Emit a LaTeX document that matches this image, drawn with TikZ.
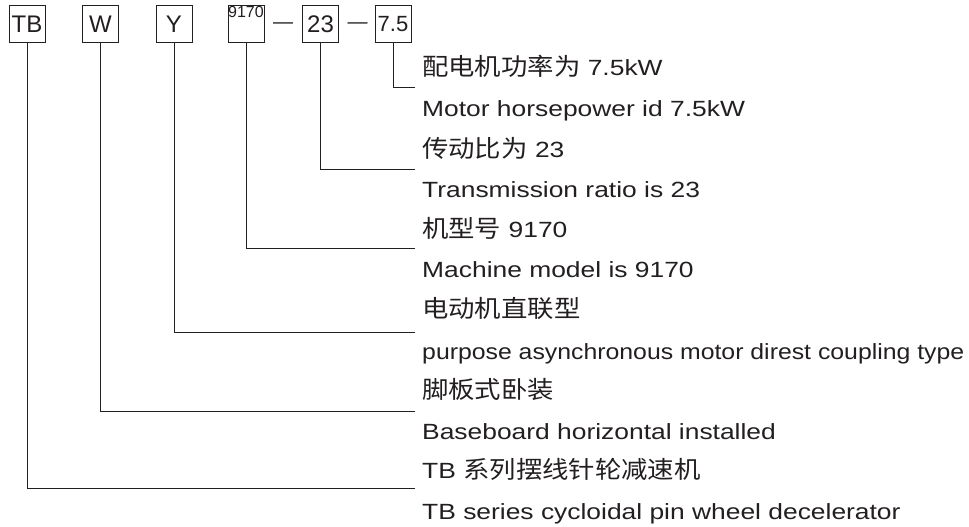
\documentclass[tikz,border=0pt]{standalone}
\usepackage{fontspec}
\usepackage{graphicx}
\setmainfont[FakeStretch=1.2]{Liberation Sans}
\newfontfamily\boxfont{Liberation Sans}
\newfontfamily\cjk[FakeStretch=1.1,Scale=1.09]{Noto Sans CJK SC}
\usepackage{tikz}
\definecolor{ink}{HTML}{231F20}

\begin{document}
\begin{tikzpicture}[x=1pt,y=-1pt,
  codebox/.style={draw=ink,line width=1pt,minimum width=36pt,minimum height=37pt,inner sep=0pt,text=ink,font=\boxfont\fontsize{24}{24}\selectfont},
  dashsym/.style={anchor=base,inner sep=0pt,text=ink,font=\boxfont\fontsize{20}{20}\selectfont},
  desc/.style={anchor=base west,inner sep=0pt,text=ink,font=\fontsize{22}{22}\selectfont},
  link/.style={draw=ink,line width=1pt}]
  \useasboundingbox (0,0) rectangle (969,527);
  \node[codebox] (tb) at (27,24.5){TB};
  \node[codebox] (w) at (100.5,24.5){W};
  \node[codebox] (y) at (174,24.5){Y};
  \node[codebox,font=\boxfont\fontsize{16}{16}\selectfont,text height=11.5pt,text depth=25.5pt] (mdl) at (246,24.5){9170};
  \node[dashsym] (dash-a) at (283,29){—};
  \node[codebox] (ratio) at (320.5,24.5){23};
  \node[dashsym] (dash-b) at (357.5,29){—};
  \node[codebox,font=\boxfont\fontsize{22}{22}\selectfont] (pwr) at (393,24.5){7.5};
  \coordinate (pwr-end) at (415,87);
  \coordinate (ratio-end) at (415,169);
  \coordinate (mdl-end) at (415,248);
  \coordinate (y-end) at (415,332);
  \coordinate (w-end) at (415,411);
  \coordinate (tb-end) at (415,488);
  \draw[link] (pwr.south) |- (pwr-end);
  \draw[link] (ratio.south) |- (ratio-end);
  \draw[link] (mdl.south) |- (mdl-end);
  \draw[link] (y.south) |- (y-end);
  \draw[link] (w.south) |- (w-end);
  \draw[link] (tb.south) |- (tb-end);
  \node[desc] (pwr-cn) at (422,76){{\cjk 配电机功率为} 7.5kW};
  \node[desc] (pwr-en) at (422,116){Motor horsepower id 7.5kW};
  \node[desc] (ratio-cn) at (422,157){{\cjk 传动比为} 23};
  \node[desc] (ratio-en) at (422,197){Transmission ratio is 23};
  \node[desc] (mdl-cn) at (422,237){{\cjk 机型号} 9170};
  \node[desc] (mdl-en) at (422,277){Machine model is 9170};
  \node[desc] (y-cn) at (422,317){\cjk 电动机直联型};
  \node[desc] (y-en) at (422,359){\scalebox{0.94}[1]{purpose asynchronous motor direst coupling type}};
  \node[desc] (w-cn) at (422,398){\cjk 脚板式卧装};
  \node[desc] (w-en) at (422,439){Baseboard horizontal installed};
  \node[desc] (tb-cn) at (422,478){TB {\cjk 系列摆线针轮减速机}};
  \node[desc] (tb-en) at (422,519){TB series cycloidal pin wheel decelerator};
\end{tikzpicture}
\end{document}
